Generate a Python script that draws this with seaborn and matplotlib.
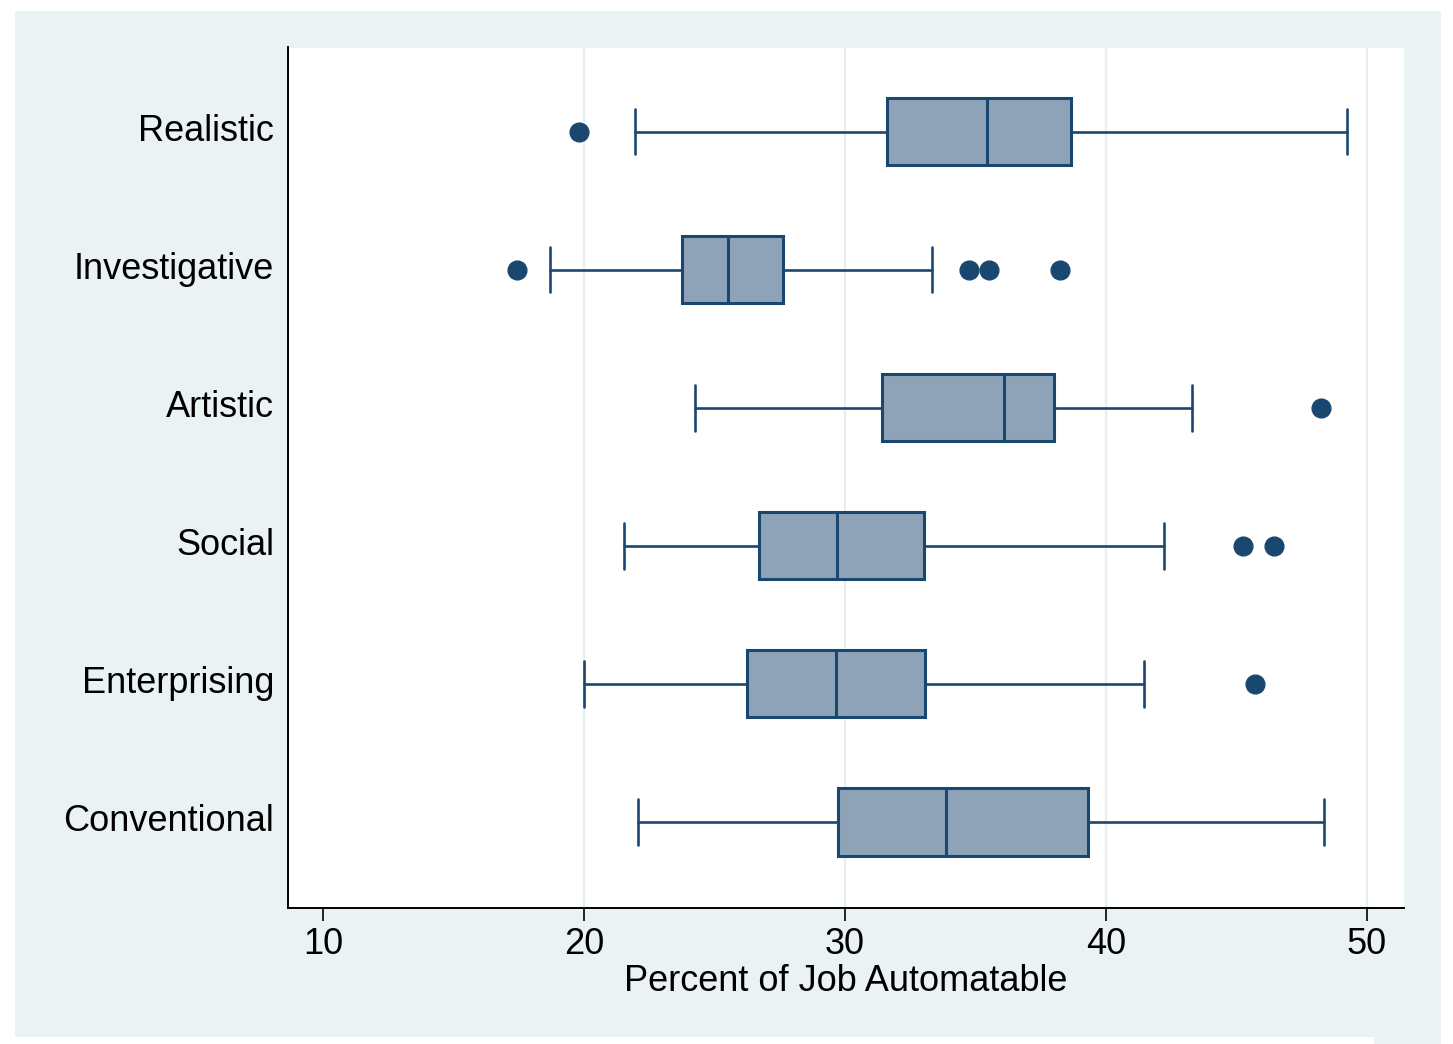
import matplotlib
matplotlib.use("Agg")
import matplotlib.pyplot as plt
import matplotlib.transforms as mtransforms
from matplotlib.patches import Rectangle
import seaborn as sns

# ---- data ----
categories = ["Realistic", "Investigative", "Artistic", "Social", "Enterprising", "Conventional"]
whisker_low = [21.97, 18.68, 24.24, 21.53, 19.99, 22.06]
q1 = [31.61, 23.75, 31.42, 26.72, 26.24, 29.72]
median = [35.44, 25.51, 36.10, 29.69, 29.66, 33.86]
q3 = [38.65, 27.64, 38.01, 33.04, 33.05, 39.32]
whisker_high = [49.25, 33.33, 43.28, 42.24, 41.47, 48.37]
outliers = [
    [19.80],
    [17.45, 34.76, 35.52, 38.24],
    [48.23],
    [45.25, 46.43],
    [45.73],
    [],
]
x_ticks = [10, 20, 30, 40, 50]
x_label = "Percent of Job Automatable"

# ---- style ----
sns.set_theme(style="white")
plt.rcParams["font.family"] = ["Liberation Sans", "DejaVu Sans"]

EDGE = "#1A476F"
FILL = "#8EA3B7"
BG = "#EAF2F3"
GRID = "#E6EFF0"
FS = 26

fig = plt.figure(figsize=(14.53, 10.44), dpi=100)
fig.patch.set_facecolor("white")
W, H = 1453, 1044
fig.patches.append(Rectangle((15 / W, 1 - 1037 / H), (1441 - 15) / W, (1037 - 11) / H,
                             transform=fig.transFigure, facecolor=BG, edgecolor="none", zorder=-10))
fig.patches.append(Rectangle((1374 / W, 0), (1441 - 1374) / W, (1044 - 1037) / H,
                             transform=fig.transFigure, facecolor=BG, edgecolor="none", zorder=-10))

ax = fig.add_axes([288 / W, 1 - 908 / H, (1404 - 288) / W, (908 - 47.5) / H])
ax.set_facecolor("white")

stats = []
for i, c in enumerate(categories):
    stats.append(dict(label=c, whislo=whisker_low[i], q1=q1[i], med=median[i],
                      q3=q3[i], whishi=whisker_high[i], fliers=outliers[i]))

positions = list(range(len(categories)))
ax.bxp(stats, positions=positions, orientation="horizontal", widths=0.486,
       capwidths=0.33, patch_artist=True, showfliers=True,
       boxprops=dict(facecolor=FILL, edgecolor=EDGE, linewidth=2.2),
       medianprops=dict(color=EDGE, linewidth=2.2),
       whiskerprops=dict(color=EDGE, linewidth=1.9),
       capprops=dict(color=EDGE, linewidth=1.9),
       flierprops=dict(marker="o", markerfacecolor=EDGE, markeredgecolor=EDGE,
                       markersize=13.5, linestyle="none"),
       zorder=3)

ax.set_ylim(5.623, -0.609)
ax.set_xlim(8.66, 51.42)
ax.set_xticks(x_ticks)
ax.set_xticklabels([str(t) for t in x_ticks])
ax.set_yticks(positions)
ax.set_yticklabels(categories)

for t in x_ticks[1:]:
    ax.axvline(t, color=GRID, linewidth=1.6, zorder=0)

for side in ["top", "right"]:
    ax.spines[side].set_visible(False)
for side in ["left", "bottom"]:
    ax.spines[side].set_color("black")
    ax.spines[side].set_linewidth(1.4)

ax.tick_params(axis="y", length=0, pad=10, labelsize=FS, colors="black")
ax.tick_params(axis="x", length=9, width=1.2, pad=5, labelsize=FS, colors="black",
               bottom=True)
ax.set_xlabel(x_label, fontsize=FS, color="black", labelpad=1)
ax.set_ylabel("")
ax.grid(False)

# nudge category labels slightly upward, as in the reference
offset = mtransforms.ScaledTranslation(0, 0.04, fig.dpi_scale_trans)
for lbl in ax.get_yticklabels():
    lbl.set_transform(lbl.get_transform() + offset)

fig.savefig("out.png", dpi=100, facecolor=fig.get_facecolor())
